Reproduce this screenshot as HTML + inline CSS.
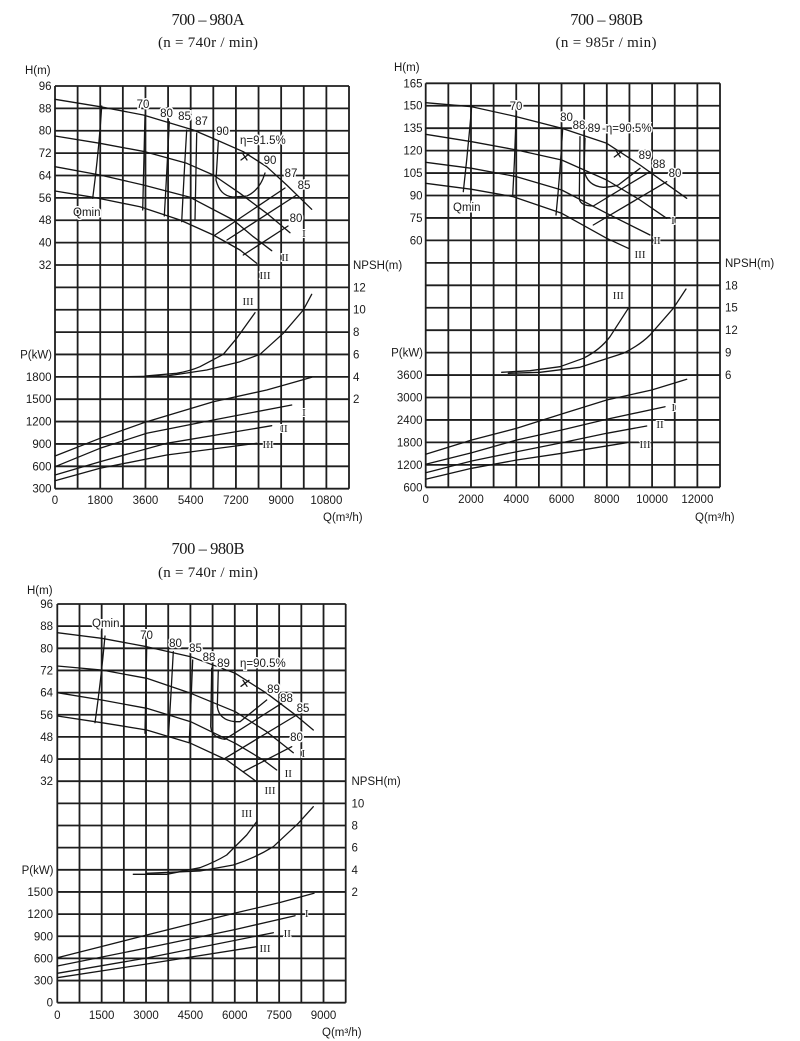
<!DOCTYPE html>
<html><head><meta charset="utf-8">
<style>
html,body{margin:0;padding:0;background:#fff;}
svg{display:block;}
.g{stroke:#1e1e1e;stroke-width:1.8;fill:none;}
.c{stroke:#151515;stroke-width:1.3;fill:none;stroke-linejoin:round;stroke-linecap:round;}
.n{font-family:"Liberation Sans",sans-serif;font-size:11.5px;fill:#1a1a1a;}
.e{font-family:"Liberation Sans",sans-serif;font-size:11.5px;fill:#1a1a1a;paint-order:stroke;stroke:#fff;stroke-width:3px;}
.r{font-family:"Liberation Serif",serif;font-size:11px;fill:#1a1a1a;paint-order:stroke;stroke:#fff;stroke-width:2px;}
.t{font-family:"Liberation Serif","Noto Serif CJK SC",serif;font-size:16.5px;fill:#1a1a1a;}
</style></head>
<body>
<svg width="800" height="1041" viewBox="0 0 800 1041" xmlns="http://www.w3.org/2000/svg">
<rect width="800" height="1041" fill="#fff"/>

<!-- ================= CHART 1 ================= -->
<text class="t" x="208" y="25" text-anchor="middle" textLength="73">700 – 980A</text>
<text class="t" x="208" y="47" text-anchor="middle" textLength="100" style="font-size:15px">(n = 740r / min)</text>
<path class="g" d="M55 86H349M55 108.37H349M55 130.74H349M55 153.12H349M55 175.49H349M55 197.86H349M55 220.23H349M55 242.6H349M55 264.98H349M55 287.35H349M55 309.72H349M55 332.09H349M55 354.46H349M55 376.84H349M55 399.21H349M55 421.58H349M55 443.95H349M55 466.32H349M55 488.7H349
M55 86V488.7M77.62 86V488.7M100.23 86V488.7M122.85 86V488.7M145.46 86V488.7M168.08 86V488.7M190.69 86V488.7M213.31 86V488.7M235.92 86V488.7M258.54 86V488.7M281.15 86V488.7M303.77 86V488.7M326.38 86V488.7M349 86V488.7"/>
<text class="n" x="25" y="74">H(m)</text>
<g class="n" text-anchor="end">
<text x="51.5" y="90">96</text><text x="51.5" y="112.4">88</text><text x="51.5" y="134.7">80</text><text x="51.5" y="157.1">72</text><text x="51.5" y="179.5">64</text><text x="51.5" y="201.9">56</text><text x="51.5" y="224.2">48</text><text x="51.5" y="246.6">40</text><text x="51.5" y="269">32</text>
<text x="52" y="358.5">P(kW)</text>
<text x="51.5" y="380.8">1800</text><text x="51.5" y="403.2">1500</text><text x="51.5" y="425.6">1200</text><text x="51.5" y="448">900</text><text x="51.5" y="470.3">600</text><text x="51.5" y="492.7">300</text>
</g>
<g class="n">
<text x="353" y="269">NPSH(m)</text>
<text x="353" y="291.4">12</text><text x="353" y="313.7">10</text><text x="353" y="336.1">8</text><text x="353" y="358.5">6</text><text x="353" y="380.8">4</text><text x="353" y="403.2">2</text>
<text x="323" y="521">Q(m³/h)</text>
</g>
<g class="n" text-anchor="middle">
<text x="55" y="504">0</text><text x="100.23" y="504">1800</text><text x="145.46" y="504">3600</text><text x="190.69" y="504">5400</text><text x="235.92" y="504">7200</text><text x="281.15" y="504">9000</text><text x="326.38" y="504">10800</text>
</g>
<path class="c" d="M55,99.3 L100,106.7 L143.3,115 L193.3,130 L216.7,140 L243.3,151.7 L266.7,166.7 L286.7,185 L311.7,209.3"/>
<path class="c" d="M55,136 L100,143.3 L145,151.7 L186.7,163.3 L213.3,175 L240,193.3 L266.7,213.3 L290,232.7"/>
<path class="c" d="M55,166.7 L100,175 L143.3,185 L190,197.3 L233.3,220 L253.3,236.7 L271.7,250.7"/>
<path class="c" d="M55,191 L93.3,197.3 L140,206.7 L180,220 L213.3,235 L240,250 L256.7,263.3"/>
<path class="c" d="M101.7,106 Q99,150 92.7,198.3"/>
<path class="c" d="M145,115 Q144,160 142.7,210"/>
<path class="c" d="M169.3,121.7 Q167,170 164.3,216"/>
<path class="c" d="M186.7,130 Q184,175 181.7,221.7"/>
<path class="c" d="M196.7,133.3 Q196,175 195,220"/>
<path class="c" d="M218.3,141.7 L216,180 Q220,196 233,197 L247,196 Q260,190 265,173"/>
<path class="c" d="M241,160 L249,154 M243,154 L247,160"/>
<path class="c" d="M215,235 L285,188 M227,240 L296.7,195 M243.3,255 L288,226"/>
<g class="e" text-anchor="middle">
<text x="143" y="108">70</text><text x="166.5" y="117">80</text><text x="184.5" y="120">85</text><text x="201.5" y="125">87</text><text x="222.5" y="135">90</text>
<text x="270" y="164">90</text><text x="291" y="177">87</text><text x="304" y="189">85</text><text x="296" y="222">80</text>
</g>
<text class="e" x="240" y="144">η=91.5%</text>
<text class="e" x="73" y="216">Qmin</text>
<g class="r" text-anchor="middle">
<text x="304" y="237">I</text><text x="285" y="261">II</text><text x="265" y="279">III</text>
<text x="248" y="305">III</text>
<text x="304" y="416">I</text><text x="284" y="432">II</text><text x="268" y="448">III</text>
</g>
<path class="c" d="M145,376 L176.7,373.3 Q190,371 200,366.7 L223.3,354.3 L236.7,338.3 L255,312.7"/>
<path class="c" d="M126.7,376.7 L166.7,376 L206.7,370 L240,361.7 L260,354.3 L283.3,333.3 L303.3,310 L311.7,294.3"/>
<path class="c" d="M55,456 L100,438.3 L146.7,421.7 L213.3,401.7 L266.7,390 L311.7,377.3"/>
<path class="c" d="M55,466.7 L100,448.3 L146.7,433.3 L213.3,420 L291.7,405"/>
<path class="c" d="M55,475 L100,461.7 L166.7,443.3 L271.7,425.7"/>
<path class="c" d="M55,480.7 L100,468.3 L166.7,455 L256.7,443.3"/>

<!-- ================= CHART 2 ================= -->
<text class="t" x="606.7" y="25" text-anchor="middle" textLength="73">700 – 980B</text>
<text class="t" x="606" y="47" text-anchor="middle" textLength="101" style="font-size:15px">(n = 985r / min)</text>
<path class="g" d="M425.7 83.3H720M425.7 105.74H720M425.7 128.19H720M425.7 150.63H720M425.7 173.08H720M425.7 195.52H720M425.7 217.96H720M425.7 240.41H720M425.7 262.85H720M425.7 285.3H720M425.7 307.74H720M425.7 330.18H720M425.7 352.63H720M425.7 375.07H720M425.7 397.52H720M425.7 419.96H720M425.7 442.4H720M425.7 464.85H720M425.7 487.3H720
M425.7 83.3V487.3M448.34 83.3V487.3M470.98 83.3V487.3M493.61 83.3V487.3M516.25 83.3V487.3M538.89 83.3V487.3M561.53 83.3V487.3M584.17 83.3V487.3M606.81 83.3V487.3M629.44 83.3V487.3M652.08 83.3V487.3M674.72 83.3V487.3M697.36 83.3V487.3M720 83.3V487.3"/>
<text class="n" x="394" y="71">H(m)</text>
<g class="n" text-anchor="end">
<text x="422.5" y="87.3">165</text><text x="422.5" y="109.7">150</text><text x="422.5" y="132.2">135</text><text x="422.5" y="154.6">120</text><text x="422.5" y="177.1">105</text><text x="422.5" y="199.5">90</text><text x="422.5" y="222">75</text><text x="422.5" y="244.4">60</text>
<text x="423" y="356.6">P(kW)</text>
<text x="422.5" y="379.1">3600</text><text x="422.5" y="401.5">3000</text><text x="422.5" y="424">2400</text><text x="422.5" y="446.4">1800</text><text x="422.5" y="468.8">1200</text><text x="422.5" y="491.3">600</text>
</g>
<g class="n">
<text x="725" y="266.9">NPSH(m)</text>
<text x="725" y="289.3">18</text><text x="725" y="311.7">15</text><text x="725" y="334.2">12</text><text x="725" y="356.6">9</text><text x="725" y="379.1">6</text>
<text x="695" y="521">Q(m³/h)</text>
</g>
<g class="n" text-anchor="middle">
<text x="425.7" y="503">0</text><text x="470.98" y="503">2000</text><text x="516.25" y="503">4000</text><text x="561.53" y="503">6000</text><text x="606.81" y="503">8000</text><text x="652.08" y="503">10000</text><text x="697.36" y="503">12000</text>
</g>
<path class="c" d="M425.7,102.7 L471.7,106.7 L516.7,116.7 L561.7,128.3 L606.7,143.3 L640,165 L663.3,181.7 L686.7,198.3"/>
<path class="c" d="M425.7,134.3 L471.7,141.7 L516.7,150 L561.7,160 L606.7,180 L640,200 L666.7,218.3"/>
<path class="c" d="M425.7,162.3 L471.7,168.3 L516.7,176.7 L561.7,190 L606.7,213.3 L650,235"/>
<path class="c" d="M425.7,183.3 L471.7,189.3 L513.3,196.7 L561.7,213.3 L606.7,238.3 L628.3,248.3"/>
<path class="c" d="M471.7,106 Q468,150 463.3,191.7"/>
<path class="c" d="M516,115 Q515,155 512.7,196"/>
<path class="c" d="M562.7,128.3 Q560,175 556,215"/>
<path class="c" d="M580,136.7 L579.3,198.3 Q580,206 593.3,206 L650,171.7"/>
<path class="c" d="M585,138.3 L584,170 Q587,186 603.3,187.3 Q612,187 618.3,185 L640,168.3"/>
<path class="c" d="M593.3,225 L666.7,181.7"/>
<path class="c" d="M614.3,157 L622.3,151 M616.3,151 L620.3,157"/>
<g class="e" text-anchor="middle">
<text x="516" y="110">70</text><text x="566.5" y="121">80</text><text x="579" y="129">88</text><text x="594" y="132">89</text>
<text x="645" y="159">89</text><text x="659" y="168">88</text><text x="675" y="177">80</text>
</g>
<text class="e" x="602" y="132">-η=90.5%</text>
<text class="e" x="453" y="211">Qmin</text>
<g class="r" text-anchor="middle">
<text x="673" y="224">I</text><text x="657" y="244">II</text><text x="640" y="258">III</text>
<text x="618.3" y="299">III</text>
<text x="673.3" y="411">I</text><text x="660" y="428">II</text><text x="645" y="448">III</text>
</g>
<path class="c" d="M501.7,372.3 L530,370.7 L560,366.7 L583.3,358.3 Q600,350 610,336.7 L628.3,308.3"/>
<path class="c" d="M508.3,373.3 L540,372.3 L580,367.3 L623.3,353.3 Q640,345 650,335 L673.3,308.3 L686,289"/>
<path class="c" d="M425.7,454.3 L471.7,440 L516.7,428.3 L561.7,414 L606.7,400 L651.7,390 L686.7,379.3"/>
<path class="c" d="M425.7,464.3 L471.7,452.7 L516.7,440 L561.7,430 L606.7,419.3 L665,406.7"/>
<path class="c" d="M425.7,472.7 L471.7,461 L516.7,451.7 L561.7,442.7 L606.7,433.3 L646.7,426"/>
<path class="c" d="M425.7,479.3 L471.7,468.3 L516.7,460 L561.7,453.3 L626.7,442.7"/>

<!-- ================= CHART 3 ================= -->
<text class="t" x="208" y="554" text-anchor="middle" textLength="73">700 – 980B</text>
<text class="t" x="208" y="577" text-anchor="middle" textLength="100" style="font-size:15px">(n = 740r / min)</text>
<path class="g" d="M57.3 604H345.7M57.3 626.15H345.7M57.3 648.3H345.7M57.3 670.45H345.7M57.3 692.6H345.7M57.3 714.75H345.7M57.3 736.9H345.7M57.3 759.05H345.7M57.3 781.2H345.7M57.3 803.35H345.7M57.3 825.5H345.7M57.3 847.65H345.7M57.3 869.8H345.7M57.3 891.95H345.7M57.3 914.1H345.7M57.3 936.25H345.7M57.3 958.4H345.7M57.3 980.55H345.7M57.3 1002.7H345.7
M57.3 604V1002.7M79.49 604V1002.7M101.67 604V1002.7M123.86 604V1002.7M146.04 604V1002.7M168.23 604V1002.7M190.41 604V1002.7M212.6 604V1002.7M234.78 604V1002.7M256.97 604V1002.7M279.15 604V1002.7M301.34 604V1002.7M323.52 604V1002.7M345.7 604V1002.7"/>
<text class="n" x="27" y="594">H(m)</text>
<g class="n" text-anchor="end">
<text x="53" y="608">96</text><text x="53" y="630.2">88</text><text x="53" y="652.3">80</text><text x="53" y="674.5">72</text><text x="53" y="696.6">64</text><text x="53" y="718.8">56</text><text x="53" y="740.9">48</text><text x="53" y="763.1">40</text><text x="53" y="785.2">32</text>
<text x="53.5" y="873.8">P(kW)</text>
<text x="53" y="896">1500</text><text x="53" y="918.1">1200</text><text x="53" y="940.3">900</text><text x="53" y="962.4">600</text><text x="53" y="984.6">300</text><text x="53" y="1006.7">0</text>
</g>
<g class="n">
<text x="351.5" y="785.2">NPSH(m)</text>
<text x="351.5" y="807.4">10</text><text x="351.5" y="829.5">8</text><text x="351.5" y="851.7">6</text><text x="351.5" y="873.8">4</text><text x="351.5" y="896">2</text>
<text x="322" y="1036">Q(m³/h)</text>
</g>
<g class="n" text-anchor="middle">
<text x="57.3" y="1019">0</text><text x="101.67" y="1019">1500</text><text x="146.04" y="1019">3000</text><text x="190.41" y="1019">4500</text><text x="234.78" y="1019">6000</text><text x="279.15" y="1019">7500</text><text x="323.52" y="1019">9000</text>
</g>
<path class="c" d="M57.3,632.7 L101.7,638.3 L146.7,646.7 L190.7,656.7 L235.3,673.3 L266.7,693.3 L293.3,713.3 L313.3,730"/>
<path class="c" d="M57.3,666 L101.7,670 L146.7,678.3 L190.7,693.3 L235.3,711.7 L266.7,731.7 L293.3,752.7"/>
<path class="c" d="M57.3,692.7 L101.7,700 L146.7,708.3 L190.7,721.7 L235.3,743.3 L263.3,760 L276.7,770"/>
<path class="c" d="M57.3,716 L101.7,722.7 L146.7,730 L190.7,743.3 L226.7,760 L256.7,781.7"/>
<path class="c" d="M105,636 Q101,680 95,722.7"/>
<path class="c" d="M146.7,646.7 Q146,690 145,733.3"/>
<path class="c" d="M173.3,651.7 Q171,695 168.3,738.3"/>
<path class="c" d="M192.7,660 Q191,700 189.3,741.7"/>
<path class="c" d="M211.7,668.3 L210.7,726.7 Q212,738 225,739.3 L281.7,703.3"/>
<path class="c" d="M218.3,670 L217.3,706.7 Q219,720 235,721.7 L240,721.7 L266.7,700"/>
<path class="c" d="M225,758.3 L296.7,715 M243.3,771.7 L291.7,746.7"/>
<path class="c" d="M241,686.3 L249,680.3 M243,680.3 L247,686.3"/>
<g class="e" text-anchor="middle">
<text x="146.5" y="639">70</text><text x="175.5" y="647">80</text><text x="195.5" y="652">85</text><text x="209" y="661">88</text><text x="223.5" y="667">89</text>
<text x="273.5" y="693">89</text><text x="286.5" y="702">88</text><text x="303" y="712">85</text><text x="296.5" y="741">80</text>
</g>
<text class="e" x="240" y="667">η=90.5%</text>
<text class="e" x="92" y="627">Qmin</text>
<g class="r" text-anchor="middle">
<text x="303.3" y="757">I</text><text x="288.3" y="777">II</text><text x="270" y="794">III</text>
<text x="246.7" y="817">III</text>
<text x="306.7" y="917">I</text><text x="287.3" y="937">II</text><text x="265" y="952">III</text>
</g>
<path class="c" d="M133.3,874.3 L166.7,874.3 L200,867.7 Q215,862 226.7,855 L246.7,835 L256.7,821.7"/>
<path class="c" d="M146.7,873.3 L200,871 L233.3,865 Q255,858 273.3,846.7 L298.3,823.3 L313.3,806.7"/>
<path class="c" d="M57.3,957.7 L101.7,946.5 L146.7,935 L190.7,924 L235.3,913 L280,902.5 L314,893.3"/>
<path class="c" d="M57.3,966 L146.7,948 L235.3,929.5 L295,915.7"/>
<path class="c" d="M57.3,973.3 L146.7,958 L273.3,932.7"/>
<path class="c" d="M57.3,977.7 L146.7,964 L256.7,946.7"/>
</svg>
</body></html>
